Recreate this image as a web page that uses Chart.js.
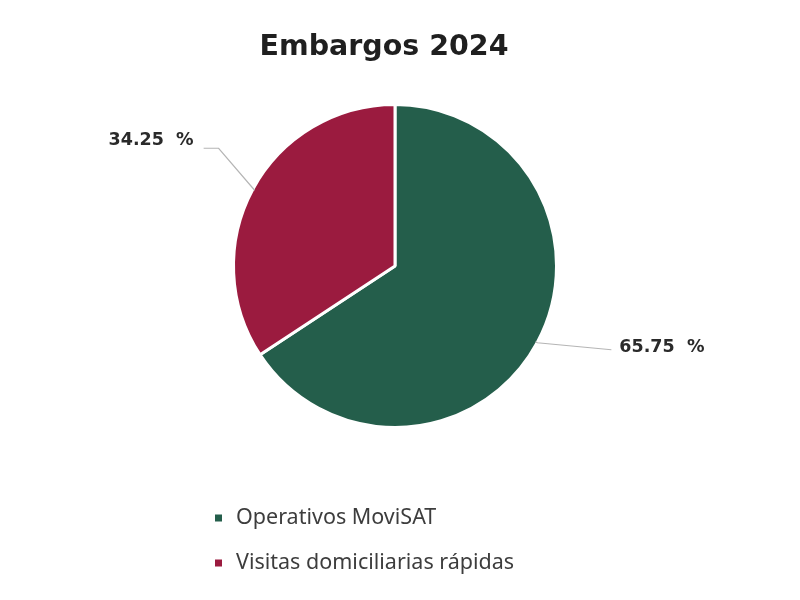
<!DOCTYPE html>
<html lang="es">
<head>
  <meta charset="UTF-8">
  <title>Embargos 2024</title>
  <script src="https://cdn.jsdelivr.net/npm/chart.js"></script>
  <style>
    body { margin: 0; background: #ffffff; }
    #wrap { width: 800px; height: 600px; }
  </style>
</head>
<body>
  <div id="wrap"><canvas id="pie" width="800" height="600"></canvas></div>

  <script>
    // data
    const titleText = "Embargos 2024";
    const categories = ["Operativos MoviSAT", "Visitas domiciliarias rápidas"];
    const percents = [65.75, 34.25];
    const sliceColors = ["#245e4b", "#9b1b3f"];

    // title + legend + callout labels drawn on the canvas
    const decor = {
      id: "decor",
      afterDraw(chart) {
        const ctx = chart.ctx;
        ctx.save();

        // title
        ctx.fillStyle = "#1f1f1f";
        ctx.font = "bold 28.5px 'DejaVu Sans', sans-serif";
        ctx.textAlign = "center";
        ctx.textBaseline = "middle";
        ctx.fillText(titleText, 384, 48);

        // leader lines + value labels
        const arcs = chart.getDatasetMeta(0).data;
        const legs = [
          { kink: [2, 1], end: [76, 8], side: "left" },       // green: nearly flat line to the right
          { kink: [-36, -42], end: [-51, -42], side: "right" } // red: up-left then flat
        ];
        ctx.strokeStyle = "#b5b5b5";
        ctx.lineWidth = 1.2;
        ctx.font = "bold 17.5px 'DejaVu Sans', sans-serif";
        ctx.fillStyle = "#2a2a2a";
        arcs.forEach((arc, i) => {
          const mid = (arc.startAngle + arc.endAngle) / 2;
          const sx = arc.x + Math.cos(mid) * (arc.outerRadius - 2);
          const sy = arc.y + Math.sin(mid) * (arc.outerRadius - 2);
          const L = legs[i];
          ctx.beginPath();
          ctx.moveTo(sx, sy);
          ctx.lineTo(sx + L.kink[0], sy + L.kink[1]);
          ctx.lineTo(sx + L.end[0], sy + L.end[1]);
          ctx.stroke();
          const txt = percents[i].toFixed(2) + "  %";
          ctx.textBaseline = "middle";
          if (L.side === "left") {
            ctx.textAlign = "left";
            ctx.fillText(txt, sx + L.end[0] + 8, sy + L.end[1] - 2);
          } else {
            ctx.textAlign = "right";
            ctx.fillText(txt, sx + L.end[0] - 10, sy + L.end[1] - 8);
          }
        });

        // legend, one item per row
        ctx.font = "21.5px 'Noto Sans', sans-serif";
        ctx.textAlign = "left";
        ctx.textBaseline = "middle";
        categories.forEach((name, i) => {
          const y = 518 + i * 45;
          ctx.fillStyle = sliceColors[i];
          ctx.fillRect(215, y - 3.5, 7, 7);
          ctx.fillStyle = "#3d3d3d";
          ctx.fillText(name, 236, y);
        });

        ctx.restore();
      }
    };

    new Chart(document.getElementById("pie"), {
      type: "pie",
      data: {
        labels: categories,
        datasets: [{
          data: percents,
          backgroundColor: sliceColors,
          borderColor: "#ffffff",
          borderWidth: 3
        }]
      },
      options: {
        responsive: false,
        animation: false,
        layout: { padding: { top: 103, bottom: 171, left: 0, right: 10 } },
        plugins: {
          legend: { display: false },
          tooltip: { enabled: false }
        }
      },
      plugins: [decor]
    });
  </script>
</body>
</html>
